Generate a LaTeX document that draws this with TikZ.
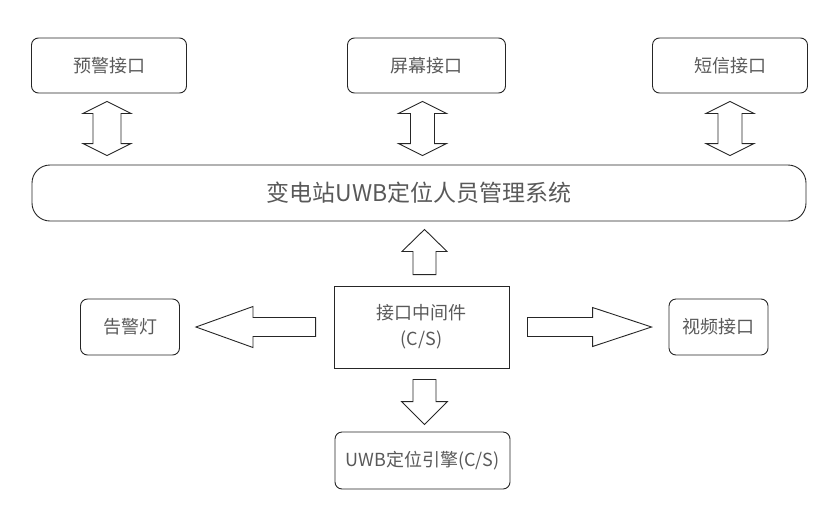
\documentclass[tikz,border=0pt]{standalone}
\usepackage{fontspec}
\setmainfont{Noto Sans CJK SC}
\usepackage{tikz}
\usetikzlibrary{
    calc
}
\definecolor{lineGray}{RGB}{38, 38, 38}
\definecolor{textGray}{RGB}{89, 89, 89}

% block arrow: tail, tip, shaft half width, head half width, head length
\newcommand{\blockarrow}[5]{%
    \coordinate (ba-tip) at (#2);
    \coordinate (ba-tail) at (#1);
    \coordinate (ba-head) at ($(ba-tip)!#5!(ba-tail)$);
    \draw[arrowline] ($(ba-tail)!#3!90:(ba-tip)$) -- ($(ba-head)!#3!90:(ba-tip)$)
        -- ($(ba-head)!#4!90:(ba-tip)$) -- (ba-tip)
        -- ($(ba-head)!#4!-90:(ba-tip)$) -- ($(ba-head)!#3!-90:(ba-tip)$)
        -- ($(ba-tail)!#3!-90:(ba-tip)$) -- cycle;
}
% double block arrow: end one, end two, shaft half width, head half width, head length
\newcommand{\dblarrow}[5]{%
    \coordinate (da-a) at (#1);
    \coordinate (da-b) at (#2);
    \coordinate (da-ha) at ($(da-a)!#5!(da-b)$);
    \coordinate (da-hb) at ($(da-b)!#5!(da-a)$);
    \draw[arrowline] (da-a) -- ($(da-ha)!#4!90:(da-b)$) -- ($(da-ha)!#3!90:(da-b)$)
        -- ($(da-hb)!#3!-90:(da-a)$) -- ($(da-hb)!#4!-90:(da-a)$) -- (da-b)
        -- ($(da-hb)!#4!90:(da-a)$) -- ($(da-hb)!#3!90:(da-a)$)
        -- ($(da-ha)!#3!-90:(da-b)$) -- ($(da-ha)!#4!-90:(da-b)$) -- cycle;
}

\begin{document}
\begin{tikzpicture}[x=1pt, y=-1pt,
    arrowline/.style={draw=lineGray, line width=0.9pt, line join=miter},
    box/.style={draw=lineGray, line width=0.9pt, rounded corners=7pt, text=textGray,
        inner sep=0pt, minimum width=155pt, minimum height=55pt,
        font=\fontsize{18}{22}\selectfont},
    smallbox/.style={box, minimum width=99pt, minimum height=56pt}
]
    \useasboundingbox (0,0) rectangle (837,509);

    % top interfaces
    \node[box] (warn) at (109, 65.5) {预警接口};
    \node[box, minimum width=158pt] (screen) at (426.5, 65.5) {屏幕接口};
    \node[box] (sms) at (730, 65.5) {短信接口};

    % main system
    \node[box, rounded corners=18pt, minimum width=774pt, minimum height=56pt,
        font=\fontsize{23}{28}\selectfont] (sys) at (419, 193) {变电站UWB定位人员管理系统};

    % middleware and neighbours
    \node[box, rounded corners=0pt, minimum width=175pt, minimum height=82pt,
        align=center, font=\fontsize{18}{26}\selectfont] (mid) at (421.5, 327) {接口中间件\\(C/S)};
    \node[smallbox] (lamp) at (130, 327) {告警灯};
    \node[smallbox] (video) at (718.5, 327) {视频接口};
    \node[box, minimum width=175pt, minimum height=57pt] (engine) at (422.5, 460.5) {UWB定位引擎(C/S)};

    % double arrows between top boxes and system
    \dblarrow{[xshift=-2pt, yshift=-8pt]warn.south}{[xshift=-2pt, yshift=9pt]warn.south |- sys.north}{14pt}{24pt}{12pt}
    \dblarrow{[xshift=-4pt, yshift=-8pt]screen.south}{[xshift=-4pt, yshift=9pt]screen.south |- sys.north}{12pt}{24pt}{12pt}
    \dblarrow{[yshift=-8pt]sms.south}{[yshift=9pt]sms.south |- sys.north}{12pt}{24pt}{12pt}

    % arrows out of the middleware
    \blockarrow{[xshift=3pt, yshift=11pt]mid.north}{[xshift=3pt, yshift=-8pt]mid.north |- sys.south}{11.5pt}{22.5pt}{22pt}
    \blockarrow{[xshift=3pt, yshift=-11pt]mid.south}{[xshift=3pt, yshift=7pt]mid.south |- engine.north}{11.5pt}{23pt}{23pt}
    \blockarrow{[xshift=-18pt]mid.west}{[xshift=16pt]lamp.east}{9.5pt}{20.5pt}{57pt}
    \blockarrow{[xshift=18pt]mid.east}{[xshift=-17pt]video.west}{9.5pt}{19.5pt}{59pt}
\end{tikzpicture}
\end{document}
